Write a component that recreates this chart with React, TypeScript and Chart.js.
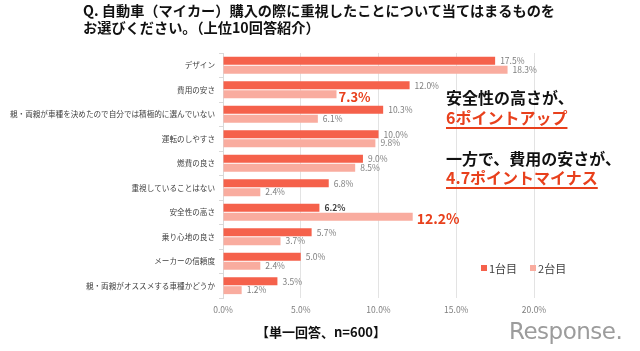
import React, { useEffect, useRef } from "react";
import { Chart, registerables } from "chart.js";

Chart.register(...registerables);

const categories = [
  "デザイン",
  "費用の安さ",
  "親・両親が車種を決めたので自分では積極的に選んでいない",
  "運転のしやすさ",
  "燃費の良さ",
  "重視していることはない",
  "安全性の高さ",
  "乗り心地の良さ",
  "メーカーの信頼度",
  "親・両親がオススメする車種かどうか",
];
const firstCar = [17.5, 12.0, 10.3, 10.0, 9.0, 6.8, 6.2, 5.7, 5.0, 3.5];
const secondCar = [18.3, 7.3, 6.1, 9.8, 8.5, 2.4, 12.2, 3.7, 2.4, 1.2];
const seriesNames = ["1台目", "2台目"];
const xTicks = [0, 5, 10, 15, 20];

const COLORS = ["#F5614B", "#F9AC9F"];
const FONT = "'Noto Sans CJK JP', 'Noto Sans', sans-serif";

// label emphasis: [datasetIndex, index] -> style
const emphasis: Record<string, { font: string; color: string; dx: number; dy: number }> = {
  "1-1": { font: `bold 13px ${FONT}`, color: "#E8401C", dx: 2, dy: 3 },
  "1-6": { font: `bold 14px ${FONT}`, color: "#E8401C", dx: 4, dy: 2 },
  "0-6": { font: `bold 8.5px ${FONT}`, color: "#404040", dx: 5, dy: 0 },
};

const labelPlugin = {
  id: "barLabels",
  afterDatasetsDraw(chart: any) {
    const ctx = chart.ctx;
    ctx.save();
    ctx.textBaseline = "middle";
    ctx.textAlign = "left";
    chart.data.datasets.forEach((ds: any, di: number) => {
      const meta = chart.getDatasetMeta(di);
      meta.data.forEach((el: any, i: number) => {
        const v = ds.data[i] as number;
        const e = emphasis[`${di}-${i}`];
        ctx.font = e ? e.font : `8.5px ${FONT}`;
        ctx.fillStyle = e ? e.color : "#7F7F7F";
        ctx.fillText(v.toFixed(1) + "%", el.x + (e ? e.dx : 5), el.y + (e ? e.dy : 0));
      });
    });
    ctx.restore();
  },
};

export default function App() {
  const ref = useRef<HTMLCanvasElement>(null);
  useEffect(() => {
    if (!ref.current) return;
    const chart = new Chart(ref.current, {
      type: "bar",
      data: {
        labels: categories,
        datasets: [
          { label: seriesNames[0], data: firstCar, backgroundColor: COLORS[0] },
          { label: seriesNames[1], data: secondCar, backgroundColor: COLORS[1] },
        ],
      },
      options: {
        indexAxis: "y",
        animation: false,
        responsive: false,
        maintainAspectRatio: false,
        categoryPercentage: 0.72,
        barPercentage: 0.9,
        layout: { padding: { top: 53, right: 106, left: 0, bottom: 0 } },
        plugins: { legend: { display: false }, tooltip: { enabled: false } },
        scales: {
          x: {
            min: xTicks[0],
            max: xTicks[xTicks.length - 1],
            afterBuildTicks: (s: any) => {
              s.ticks = xTicks.map((v) => ({ value: v }));
            },
            afterFit: (s: any) => {
              s.height = 53;
            },
            ticks: {
              padding: 7,
              color: "#7F7F7F",
              font: { size: 8.5, family: FONT },
              callback: (v: any) => Number(v).toFixed(1) + "%",
            },
            grid: { color: "#E3E3E3", drawTicks: false },
            border: { display: false },
          },
          y: {
            afterFit: (s: any) => {
              s.width = 223;
            },
            ticks: {
              padding: 4,
              color: "#404040",
              font: { size: 7.6, family: FONT },
              autoSkip: false,
            },
            grid: {
              offset: true,
              drawOnChartArea: false,
              drawTicks: true,
              tickLength: 4,
              color: "#D9D9D9",
            },
            border: { color: "#D9D9D9" },
          },
        },
      },
      plugins: [labelPlugin],
    } as any);
    return () => chart.destroy();
  }, []);

  const abs = (s: React.CSSProperties): React.CSSProperties => ({ position: "absolute", margin: 0, whiteSpace: "nowrap", ...s });
  const red = "#E8401C";

  return (
    <div style={{ position: "fixed", left: 0, top: 0, width: 640, height: 351, background: "#fff", fontFamily: FONT, overflow: "hidden" }}>
      <canvas ref={ref} width={640} height={351} style={{ position: "absolute", left: 0, top: 0, width: 640, height: 351 }} />
      <div style={abs({ left: 83, top: 2, fontSize: 14.2, fontWeight: "bold", color: "#111", lineHeight: "17px" })}>
        Q. 自動車（マイカー）購入の際に重視したことについて当てはまるものを
        <br />
        お選びください。（上位10回答紹介）
      </div>
      <div style={abs({ left: 446, top: 87, fontSize: 16, fontWeight: "bold", color: "#111", lineHeight: "21px" })}>安全性の高さが、</div>
      <div style={abs({ left: 446, top: 107, fontSize: 16, fontWeight: "bold", color: red, lineHeight: "21px", textDecoration: "underline", textDecorationThickness: "1.5px", textUnderlineOffset: "3px" })}>6ポイントアップ</div>
      <div style={abs({ left: 446, top: 148, fontSize: 16, fontWeight: "bold", color: "#111", lineHeight: "21px" })}>一方で、費用の安さが、</div>
      <div style={abs({ left: 446, top: 167, fontSize: 16, fontWeight: "bold", color: red, lineHeight: "21px", textDecoration: "underline", textDecorationThickness: "1.5px", textUnderlineOffset: "3px" })}>4.7ポイントマイナス</div>
      <div style={abs({ left: 481, top: 261, fontSize: 11, color: "#404040", lineHeight: "14px", display: "flex", alignItems: "center" })}>
        <span style={{ display: "inline-block", width: 6, height: 6, background: COLORS[0], marginRight: 2 }} />
        <span>{seriesNames[0]}</span>
        <span style={{ display: "inline-block", width: 6, height: 6, background: COLORS[1], marginLeft: 13, marginRight: 2 }} />
        <span>{seriesNames[1]}</span>
      </div>
      <div style={abs({ left: 256, top: 323, fontSize: 13, fontWeight: "bold", color: "#111", lineHeight: "18px" })}>【単一回答、n=600】</div>
      <div style={abs({ left: 509, top: 318, fontSize: 23, color: "#9C9C9C", lineHeight: "26px", fontFamily: "'DejaVu Sans', sans-serif", letterSpacing: "-0.5px" })}>Response.</div>
    </div>
  );
}
